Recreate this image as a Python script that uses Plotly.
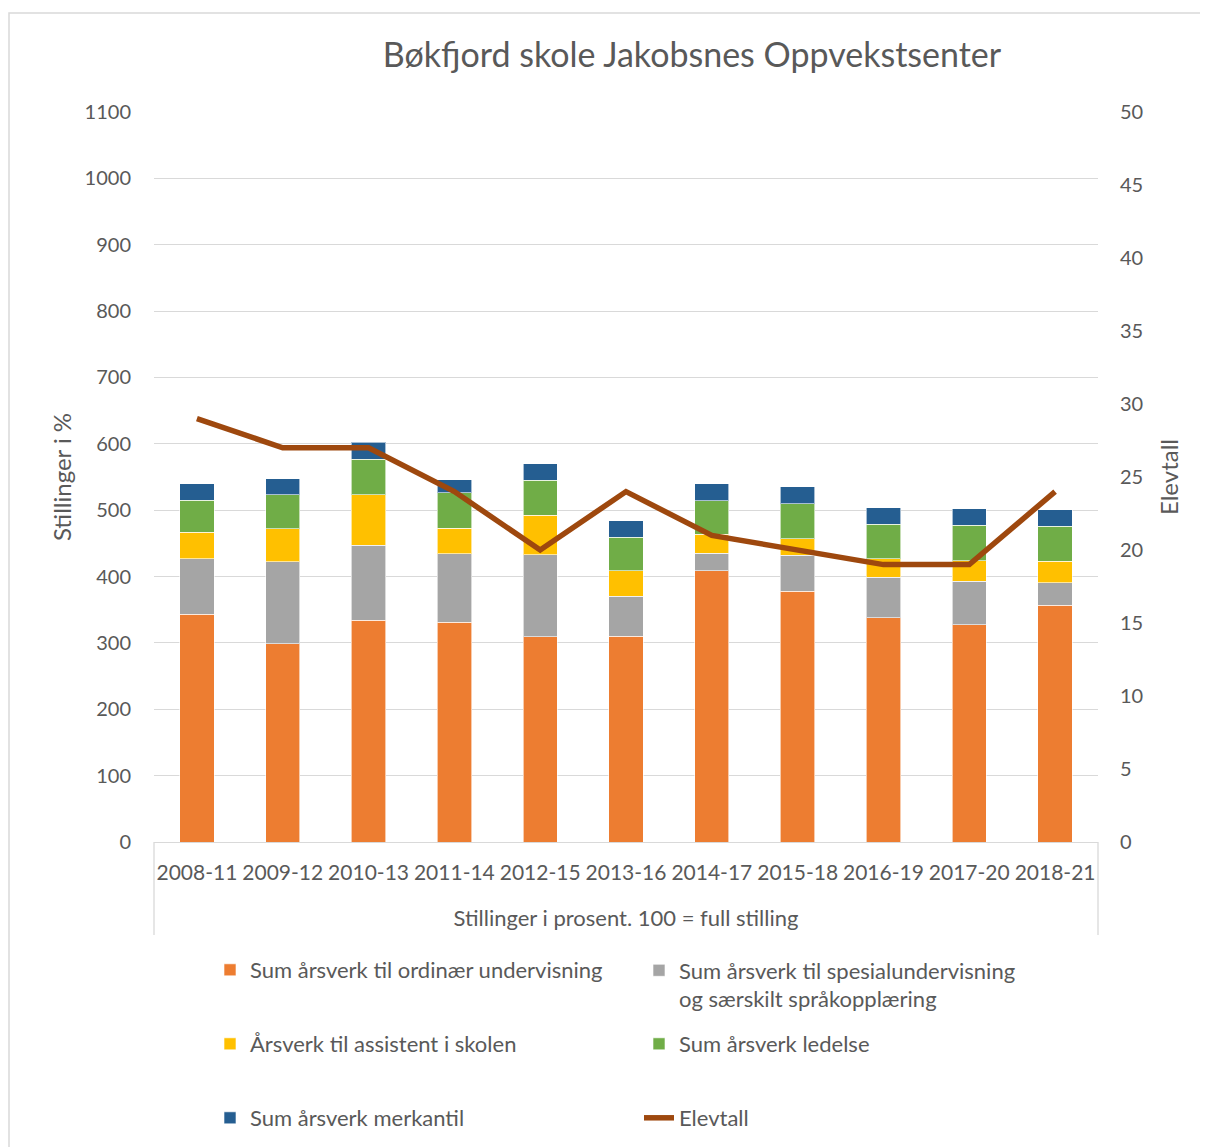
import plotly.graph_objects as go

categories = ["2008-11", "2009-12", "2010-13", "2011-14", "2012-15", "2013-16",
              "2014-17", "2015-18", "2016-19", "2017-20", "2018-21"]
ordinaer = [343, 299, 334, 331, 309, 310, 409, 378, 338, 327, 357]
spesial = [84, 123, 113, 103, 124, 60, 26, 54, 61, 66, 34]
assistent = [40, 50, 76, 39, 59, 39, 29, 25, 28, 31, 32]
ledelse = [48, 51, 54, 53, 53, 50, 50, 53, 52, 53, 53]
merkantil = [25, 24, 25, 20, 25, 25, 26, 25, 25, 25, 25]
elevtall = [29, 27, 27, 24, 20, 24, 21, 20, 19, 19, 24]

OFF = 8  # page body margin
W, H = 1200, 1139
# plot area in screenshot coordinates
L, R, T, B = 154, 1098, 112, 842
PW, PH = R - L, B - T

def px(x):
    return (x - L) / PW

def py(y):
    return (B - y) / PH

FONT = "Lato"
TXT = "#595959"
GRID = "#d9d9d9"

fig = go.Figure()
series = [
    ("Sum årsverk til ordinær undervisning", ordinaer, "#ED7D31", "legend"),
    ("Sum årsverk til spesialundervisning<br>og særskilt språkopplæring", spesial, "#A5A5A5", "legend2"),
    ("Årsverk til assistent i skolen", assistent, "#FFC000", "legend3"),
    ("Sum årsverk ledelse", ledelse, "#70AD47", "legend4"),
    ("Sum årsverk merkantil", merkantil, "#255E91", "legend5"),
]
for name, vals, col, lg in series:
    fig.add_trace(go.Bar(x=categories, y=vals, name=name, marker_color=col,
                         marker_line=dict(color="rgba(255,255,255,0.6)", width=1),
                         legend=lg, showlegend=True))
fig.add_trace(go.Scatter(x=categories, y=elevtall, name="Elevtall", mode="lines",
                         line=dict(color="#9E480E", width=5.5), yaxis="y2",
                         legend="legend6", showlegend=True))

legfont = dict(family=FONT, size=22, color=TXT)
def leg(xp, yp, valign="middle", yanchor="middle"):
    return dict(x=px(xp), y=py(yp), xanchor="left", yanchor=yanchor,
                font=legfont, bgcolor="rgba(0,0,0,0)", valign=valign,
                itemclick=False, itemdoubleclick=False, visible=True)

fig.update_layout(
    width=W, height=H, showlegend=True,
    margin=dict(l=L - OFF, r=W - (R - OFF), t=T - OFF, b=H - (B - OFF), autoexpand=False),
    paper_bgcolor="white", plot_bgcolor="white",
    barmode="stack", bargap=0.6,
    font=dict(family=FONT, color=TXT, size=20),
    title=dict(text="Bøkfjord skole Jakobsnes Oppvekstsenter",
               x=px(692), xref="paper", xanchor="center",
               y=1 - (55 - OFF) / H, yref="container", yanchor="middle",
               font=dict(family=FONT, size=34, color=TXT)),
    xaxis=dict(type="category", showgrid=False, showline=True, linecolor=GRID, linewidth=1.3,
               ticks="outside", ticklen=12, tickcolor="rgba(0,0,0,0)",
               tickfont=dict(family=FONT, size=21, color=TXT),
               title=dict(text="Stillinger i prosent. 100 = full stilling",
                          font=dict(family=FONT, size=22, color=TXT), standoff=27)),
    yaxis=dict(range=[0, 1100], dtick=100, showgrid=True, gridcolor=GRID, gridwidth=1.3,
               zeroline=False, showline=False,
               ticks="outside", ticklen=18, tickcolor="rgba(0,0,0,0)",
               tickfont=dict(family=FONT, size=20, color=TXT),
               title=dict(text="Stillinger i %", font=dict(family=FONT, size=24, color=TXT),
                          standoff=6)),
    yaxis2=dict(range=[0, 50], dtick=5, overlaying="y", side="right", showgrid=False,
                zeroline=False, showline=False,
                ticks="outside", ticklen=17, tickcolor="rgba(0,0,0,0)",
                tickfont=dict(family=FONT, size=20, color=TXT),
                title=dict(text="Elevtall", font=dict(family=FONT, size=24, color=TXT),
                           standoff=18)),
    legend=leg(210, 970),
    legend2=leg(639, 985, valign="top"),
    legend3=leg(210, 1044),
    legend4=leg(639, 1044),
    legend5=leg(210, 1118),
    legend6=leg(639, 1118),
    shapes=[
        dict(type="rect", xref="paper", yref="paper", x0=px(9), x1=px(1240),
             y0=py(1180), y1=py(13), line=dict(color=GRID, width=1.5), layer="below"),
        dict(type="line", xref="paper", yref="paper", x0=0, x1=0, y0=0, y1=py(935),
             line=dict(color=GRID, width=1.3)),
        dict(type="line", xref="paper", yref="paper", x0=1, x1=1, y0=0, y1=py(935),
             line=dict(color=GRID, width=1.3)),
    ],
)

fig.write_html("out.html")
